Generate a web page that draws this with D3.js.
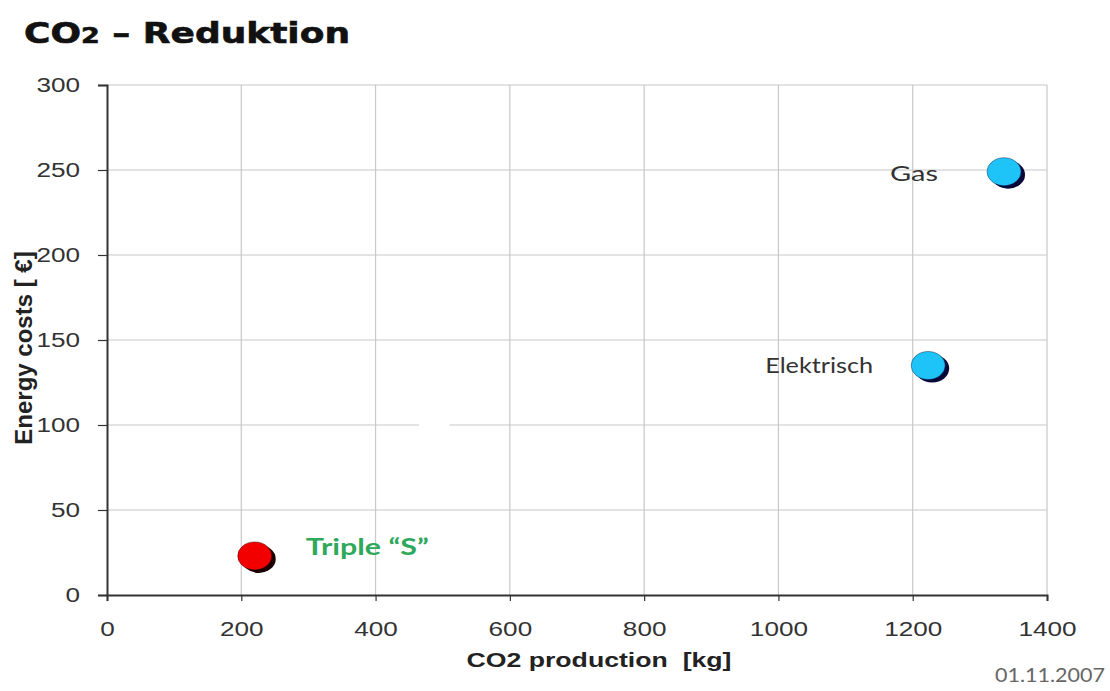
<!DOCTYPE html>
<html>
<head>
<meta charset="utf-8">
<script src="https://cdn.jsdelivr.net/npm/d3@7"></script>
<style>
  html, body { margin: 0; padding: 0; background: #fff; }
  svg { display: block; }
</style>
</head>
<body>
<svg id="chart" width="1110" height="691"></svg>
<script>
// Heating systems compared by CO2 output and yearly energy cost
const systems   = ["Triple \u201cS\u201d", "Elektrisch", "Gas"];
const co2Kg     = [220, 1223, 1336];
const costEuro  = [23, 135, 249];
const xTicks    = [0, 200, 400, 600, 800, 1000, 1200, 1400];
const yTicks    = [0, 50, 100, 150, 200, 250, 300];

const svg = d3.select("#chart");
const W = 1110, H = 691;
const m = { left: 107, right: W - 1047, top: 85, bottom: H - 595 };

const x = d3.scaleLinear().domain([0, 1400]).range([m.left, W - m.right]);
const y = d3.scaleLinear().domain([0, 300]).range([H - m.bottom, m.top]);

// Widen text horizontally: either by a factor or to a given width
function widen(sel, factor, width) {
  sel.each(function () {
    const len = this.getComputedTextLength();
    d3.select(this)
      .attr("textLength", width != null ? width : len * factor)
      .attr("lengthAdjust", "spacingAndGlyphs");
  });
}
const STRETCH = 1.34;

// Title with a small "2"
const title = svg.append("text")
  .attr("x", 24).attr("y", 43)
  .attr("font-family", "DejaVu Sans, sans-serif")
  .attr("font-weight", "bold")
  .attr("font-size", 28)
  .attr("fill", "#111")
  .attr("stroke", "#111").attr("stroke-width", 0.6);
title.append("tspan").text("CO");
title.append("tspan").attr("font-size", 21).text("2");
title.append("tspan").text(" \u2013 Reduktion");
widen(title, null, 326);

// Grid lines
const grid = svg.append("g").attr("stroke", "#c8c8c8").attr("stroke-width", 1.2);
grid.selectAll("line.v").data(xTicks.filter(d => d > 0)).join("line")
  .attr("x1", d => x(d)).attr("x2", d => x(d))
  .attr("y1", y(300)).attr("y2", y(0));
grid.selectAll("line.h").data(yTicks.filter(d => d > 0)).join("line")
  .attr("x1", x(0)).attr("x2", x(1400))
  .attr("y1", d => y(d)).attr("y2", d => y(d));

// Blank patch sitting over the 100 grid line
svg.append("rect")
  .attr("x", x(465)).attr("y", y(100) - 4)
  .attr("width", x(510) - x(465)).attr("height", 8)
  .attr("fill", "#fff");

// Axes
const axisFont = "Liberation Sans, Arial, sans-serif";
const xAxis = svg.append("g")
  .attr("transform", `translate(0,${y(0)})`)
  .call(d3.axisBottom(x).tickValues(xTicks).tickFormat(d3.format("d")).tickSize(6).tickPadding(21));
const yAxis = svg.append("g")
  .attr("transform", `translate(${x(0)},0)`)
  .call(d3.axisLeft(y).tickValues(yTicks).tickFormat(d3.format("d")).tickSize(9).tickPadding(18));
[xAxis, yAxis].forEach(g => {
  g.select(".domain").attr("stroke", "#333").attr("stroke-width", 2);
  g.selectAll(".tick line").attr("stroke", "#333").attr("stroke-width", 1.2);
  g.selectAll(".tick text")
    .attr("font-family", axisFont)
    .attr("font-size", 19.5)
    .attr("fill", "#333");
});
xAxis.selectAll(".tick text").attr("dy", "0.71em");
widen(xAxis.selectAll(".tick text"), STRETCH);
widen(yAxis.selectAll(".tick text"), STRETCH);

// Axis titles
const xTitle = svg.append("text")
  .attr("x", 599).attr("y", 667)
  .attr("text-anchor", "middle")
  .attr("font-family", axisFont).attr("font-weight", "bold")
  .attr("font-size", 20.5).attr("fill", "#222")
  .attr("xml:space", "preserve")
  .text("CO2 production  [kg]");
widen(xTitle, null, 265);
svg.append("text")
  .attr("transform", "translate(32,348) rotate(-90)")
  .attr("text-anchor", "middle")
  .attr("font-family", axisFont).attr("font-weight", "bold")
  .attr("font-size", 24).attr("fill", "#222")
  .attr("xml:space", "preserve")
  .text("Energy costs [ \u20ac]");

// Points with a dark drop shadow
const pts = systems.map((name, i) => ({ name, x: co2Kg[i], y: costEuro[i] }));
const fills   = { "Triple \u201cS\u201d": "#f20000", "Elektrisch": "#1ec3f7", "Gas": "#1ec3f7" };
const shadows = { "Triple \u201cS\u201d": "#1a0000", "Elektrisch": "#07093a", "Gas": "#07093a" };

const dots = svg.append("g");
dots.selectAll("ellipse.shadow").data(pts).join("ellipse")
  .attr("cx", d => x(d.x) + 4).attr("cy", d => y(d.y) + 3)
  .attr("rx", 17).attr("ry", 14)
  .attr("fill", d => shadows[d.name]);
dots.selectAll("ellipse.dot").data(pts).join("ellipse")
  .attr("cx", d => x(d.x)).attr("cy", d => y(d.y))
  .attr("rx", 17).attr("ry", 14)
  .attr("fill", d => fills[d.name])
  .attr("stroke", d => shadows[d.name]).attr("stroke-opacity", 0.5).attr("stroke-width", 0.8);

// Point labels
const labelStyle = {
  "Triple \u201cS\u201d": { dx: 51, dy: -1, anchor: "start", color: "#2ea85a", weight: "bold", width: 123 },
  "Elektrisch":           { dx: -55, dy: 7, anchor: "end", color: "#333", weight: "normal", width: 108 },
  "Gas":                  { dx: -66, dy: 9, anchor: "end", color: "#333", weight: "normal", width: 48 }
};
const labels = svg.append("g").selectAll("text").data(pts).join("text")
  .attr("x", d => x(d.x) + labelStyle[d.name].dx)
  .attr("y", d => y(d.y) + labelStyle[d.name].dy)
  .attr("text-anchor", d => labelStyle[d.name].anchor)
  .attr("font-family", "Lato, sans-serif")
  .attr("font-size", 22)
  .attr("font-weight", d => labelStyle[d.name].weight)
  .attr("fill", d => labelStyle[d.name].color)
  .text(d => d.name);
labels.each(function (d) { widen(d3.select(this), null, labelStyle[d.name].width); });

// Date stamp
const dateText = svg.append("text")
  .attr("x", 1105).attr("y", 682)
  .attr("text-anchor", "end")
  .attr("font-family", "Lato, sans-serif")
  .attr("font-size", 20)
  .attr("fill", "#666")
  .text("01.11.2007");
widen(dateText, null, 110);
</script>
</body>
</html>
